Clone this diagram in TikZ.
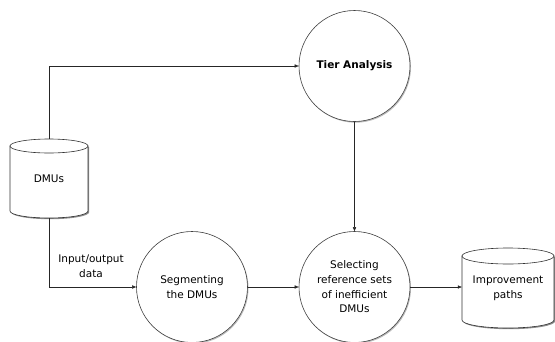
\documentclass[tikz,border=0pt]{standalone}
\usepackage{fontspec}
\setmainfont{DejaVu Sans}
\usetikzlibrary{arrows.meta,shadows}
\begin{document}
\begin{tikzpicture}[x=1pt,y=-1pt,
  font=\fontsize{10.5}{14.7}\selectfont,
  proc/.style={circle,draw=black!75,line width=0.6pt,fill=white,minimum size=111pt,inner sep=0pt,align=center,
    drop shadow={shadow xshift=1pt,shadow yshift=-1.2pt,opacity=0.45,fill=black!60}},
  conn/.style={draw=black!85,line width=0.5pt,-{Triangle[length=4pt,width=3.2pt]}},
  plain/.style={draw=black!85,line width=0.5pt},
  cylbody/.style={draw=black!80,line width=0.6pt,fill=white},
  cylnode/.style={inner sep=0pt,align=center}]
\useasboundingbox (0,0) rectangle (555,341);
% DMUs cylinder
\fill[black!45] (11.2,147.2) -- (11.2,212.2) arc[start angle=180,end angle=0,x radius=39,y radius=7] -- (89.2,147.2) -- cycle;
\draw[cylbody] (10,146) -- (10,211) arc[start angle=180,end angle=0,x radius=39,y radius=7] -- (88,146) -- cycle;
\draw[cylbody] (49,146) ellipse[x radius=39,y radius=7];
\node[cylnode,minimum width=78pt,minimum height=79pt] (dmu) at (49,178.5) {\raisebox{-3pt}{DMUs}};
% Improvement cylinder
\fill[black!45] (463.2,257.2) -- (463.2,321.2) arc[start angle=180,end angle=0,x radius=46,y radius=8] -- (555.2,257.2) -- cycle;
\draw[cylbody] (462,256) -- (462,320) arc[start angle=180,end angle=0,x radius=46,y radius=8] -- (554,256) -- cycle;
\draw[cylbody] (508,256) ellipse[x radius=46,y radius=8];
\node[cylnode,minimum width=92pt,minimum height=80pt] (imp) at (508,288) {\raisebox{-5pt}{\begin{tabular}{@{}c@{}}Improvement\\paths\end{tabular}}};
% Circles
\node[proc,font=\fontsize{10.5}{14.7}\selectfont\bfseries] (tier) at (354.5,66) {Tier Analysis};
\node[proc] (seg) at (192,287) {Segmenting\\the DMUs};
\node[proc] (sel) at (354.5,287) {Selecting\\reference sets\\of inefficient\\DMUs};
% Connectors
\coordinate (c1) at (dmu.north |- tier.west);
\coordinate (c2) at (dmu.south |- seg.west);
\draw[conn] (dmu.north) -- (c1) -- (tier.west);
\draw[conn] (dmu.south) -- (c2) -- (seg.west);
\draw[conn] (tier.south) -- (sel.north);
\draw[conn] (seg.east) -- (sel.west);
\draw[conn] (sel.east) -- (sel.east -| imp.west);
\node[align=center] (io) at (91,266.5) {Input/output\\data};
\end{tikzpicture}
\end{document}
